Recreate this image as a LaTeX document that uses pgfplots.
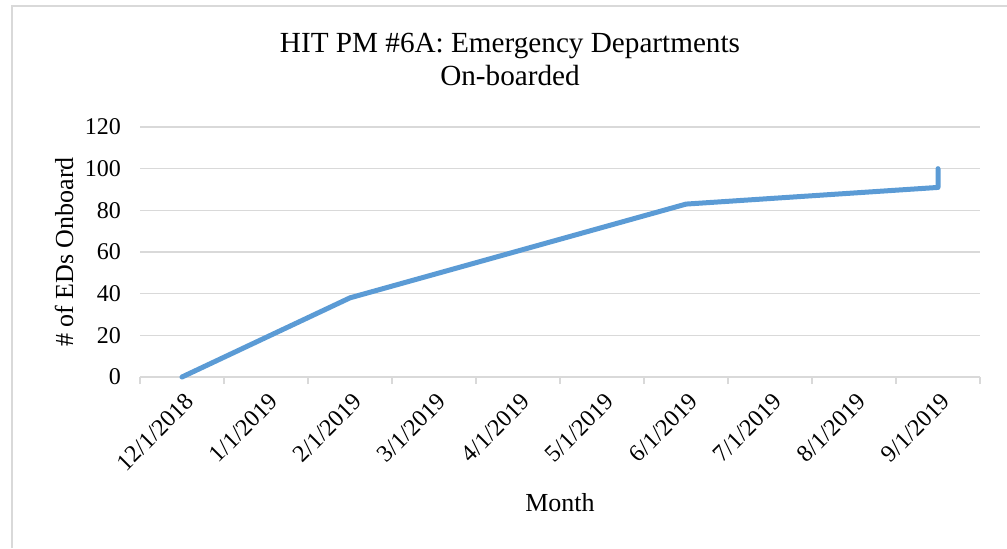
\documentclass[border=0pt]{standalone}
\usepackage{fontspec}
\setmainfont{Liberation Serif}
\usepackage{pgfplots}
\pgfplotsset{compat=1.18}
\definecolor{lineblue}{HTML}{5B9BD5}
\definecolor{gridgray}{HTML}{D9D9D9}
\begin{document}
\begin{tikzpicture}
\useasboundingbox (0,0) rectangle (503.5pt,274pt);
\draw[gridgray, line width=0.9pt] (6pt,0) -- (6pt,271pt) -- (503.5pt,271pt);
\begin{axis}[
  at={(70pt,85.5pt)}, anchor=south west,
  scale only axis, width=420pt, height=125pt,
  xmin=-0.5, xmax=9.5, ymin=0, ymax=120,
  axis x line*=bottom, axis y line*=left,
  y axis line style={draw=none},
  x axis line style={draw=gridgray, line width=0.8pt, -},
  ymajorgrids, grid style={gridgray, line width=0.8pt},
  ytick={0,20,...,120},
  major y tick style={draw=none},
  xtick={0,...,9},
  xticklabels={12/1/2018,1/1/2019,2/1/2019,3/1/2019,4/1/2019,5/1/2019,6/1/2019,7/1/2019,8/1/2019,9/1/2019},
  major x tick style={draw=none},
  minor xtick={-0.5,0.5,...,9.5},
  minor x tick style={draw=gridgray, line width=0.8pt},
  minor tick length=3.5pt,
  xtick align=outside,
  /pgf/number format/assume math mode=true,
  tick label style={font=\fontsize{12}{14}\selectfont},
  yticklabel style={xshift=-6pt},
  xticklabel style={rotate=45, anchor=east, yshift=-7pt, xshift=2pt},
  title={HIT PM \#6A: Emergency Departments\\On-boarded},
  title style={at={(axis description cs:0.4405,1.224)}, anchor=center, align=center, font=\fontsize{14.6}{16.5}\selectfont},
  xlabel={Month},
  xlabel style={at={(axis description cs:0.5,-0.504)}, anchor=center, font=\fontsize{13}{15}\selectfont},
  ylabel={\# of EDs Onboard},
  ylabel style={at={(axis description cs:-0.0905,0.5)}, anchor=center, font=\fontsize{13}{15}\selectfont},
  clip=false,
]
\addplot[lineblue, line width=2.5pt, line cap=round, line join=round] coordinates {
  (0,0) (2,38) (6,83) (9,91) (9,100)
};
\end{axis}
\end{tikzpicture}
\end{document}
